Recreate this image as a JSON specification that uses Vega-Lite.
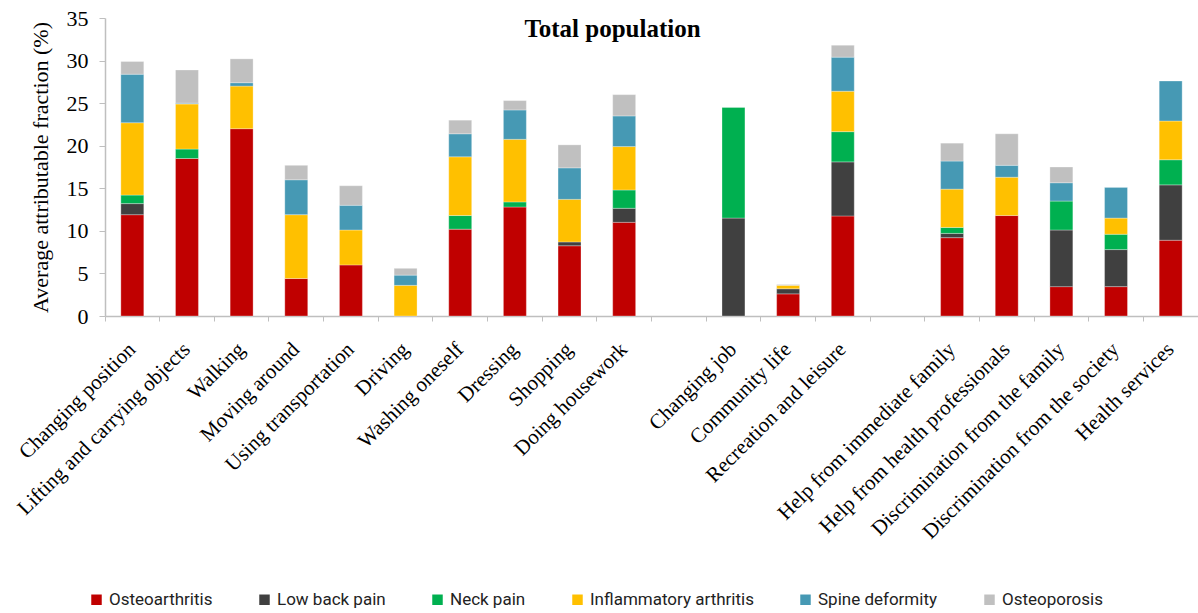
{
  "$schema": "https://vega.github.io/schema/vega-lite/v6.json",
  "autosize": {"type": "none"},
  "width": 1093,
  "height": 298,
  "padding": {"left": 105, "top": 18, "right": 0, "bottom": 297},
  "background": "white",
  "title": {
    "text": "Total population",
    "font": "Liberation Serif",
    "fontSize": 25,
    "fontWeight": "bold",
    "color": "#000000",
    "anchor": "middle",
    "frame": "group",
    "dx": -39,
    "offset": -35
  },
  "data": {
    "values": [
      {"a": "Changing position", "d": "Osteoarthritis", "k": 1, "v": 11.9},
      {"a": "Changing position", "d": "Low back pain", "k": 2, "v": 1.3},
      {"a": "Changing position", "d": "Neck pain", "k": 3, "v": 1.0},
      {"a": "Changing position", "d": "Inflammatory arthritis", "k": 4, "v": 8.5},
      {"a": "Changing position", "d": "Spine deformity", "k": 5, "v": 5.7},
      {"a": "Changing position", "d": "Osteoporosis", "k": 6, "v": 1.5},
      {"a": "Lifting and carrying objects", "d": "Osteoarthritis", "k": 1, "v": 18.5},
      {"a": "Lifting and carrying objects", "d": "Neck pain", "k": 3, "v": 1.1},
      {"a": "Lifting and carrying objects", "d": "Inflammatory arthritis", "k": 4, "v": 5.3},
      {"a": "Lifting and carrying objects", "d": "Spine deformity", "k": 5, "v": 0.1},
      {"a": "Lifting and carrying objects", "d": "Osteoporosis", "k": 6, "v": 3.9},
      {"a": "Walking", "d": "Osteoarthritis", "k": 1, "v": 22.0},
      {"a": "Walking", "d": "Inflammatory arthritis", "k": 4, "v": 5.0},
      {"a": "Walking", "d": "Spine deformity", "k": 5, "v": 0.4},
      {"a": "Walking", "d": "Osteoporosis", "k": 6, "v": 2.8},
      {"a": "Moving around", "d": "Osteoarthritis", "k": 1, "v": 4.4},
      {"a": "Moving around", "d": "Inflammatory arthritis", "k": 4, "v": 7.5},
      {"a": "Moving around", "d": "Spine deformity", "k": 5, "v": 4.1},
      {"a": "Moving around", "d": "Osteoporosis", "k": 6, "v": 1.7},
      {"a": "Using transportation", "d": "Osteoarthritis", "k": 1, "v": 6.0},
      {"a": "Using transportation", "d": "Inflammatory arthritis", "k": 4, "v": 4.1},
      {"a": "Using transportation", "d": "Spine deformity", "k": 5, "v": 2.9},
      {"a": "Using transportation", "d": "Osteoporosis", "k": 6, "v": 2.3},
      {"a": "Driving", "d": "Inflammatory arthritis", "k": 4, "v": 3.6},
      {"a": "Driving", "d": "Spine deformity", "k": 5, "v": 1.2},
      {"a": "Driving", "d": "Osteoporosis", "k": 6, "v": 0.8},
      {"a": "Washing oneself", "d": "Osteoarthritis", "k": 1, "v": 10.2},
      {"a": "Washing oneself", "d": "Neck pain", "k": 3, "v": 1.6},
      {"a": "Washing oneself", "d": "Inflammatory arthritis", "k": 4, "v": 6.9},
      {"a": "Washing oneself", "d": "Spine deformity", "k": 5, "v": 2.7},
      {"a": "Washing oneself", "d": "Osteoporosis", "k": 6, "v": 1.6},
      {"a": "Dressing", "d": "Osteoarthritis", "k": 1, "v": 12.8},
      {"a": "Dressing", "d": "Neck pain", "k": 3, "v": 0.6},
      {"a": "Dressing", "d": "Inflammatory arthritis", "k": 4, "v": 7.35},
      {"a": "Dressing", "d": "Spine deformity", "k": 5, "v": 3.45},
      {"a": "Dressing", "d": "Osteoporosis", "k": 6, "v": 1.1},
      {"a": "Shopping", "d": "Osteoarthritis", "k": 1, "v": 8.25},
      {"a": "Shopping", "d": "Low back pain", "k": 2, "v": 0.45},
      {"a": "Shopping", "d": "Inflammatory arthritis", "k": 4, "v": 5.0},
      {"a": "Shopping", "d": "Spine deformity", "k": 5, "v": 3.7},
      {"a": "Shopping", "d": "Osteoporosis", "k": 6, "v": 2.7},
      {"a": "Doing housework", "d": "Osteoarthritis", "k": 1, "v": 11.0},
      {"a": "Doing housework", "d": "Low back pain", "k": 2, "v": 1.65},
      {"a": "Doing housework", "d": "Neck pain", "k": 3, "v": 2.15},
      {"a": "Doing housework", "d": "Inflammatory arthritis", "k": 4, "v": 5.1},
      {"a": "Doing housework", "d": "Spine deformity", "k": 5, "v": 3.6},
      {"a": "Doing housework", "d": "Osteoporosis", "k": 6, "v": 2.5},
      {"a": "Changing job", "d": "Low back pain", "k": 2, "v": 11.5},
      {"a": "Changing job", "d": "Neck pain", "k": 3, "v": 13.0},
      {"a": "Community life", "d": "Osteoarthritis", "k": 1, "v": 2.6},
      {"a": "Community life", "d": "Low back pain", "k": 2, "v": 0.6},
      {"a": "Community life", "d": "Inflammatory arthritis", "k": 4, "v": 0.4},
      {"a": "Community life", "d": "Osteoporosis", "k": 6, "v": 0.1},
      {"a": "Recreation and leisure", "d": "Osteoarthritis", "k": 1, "v": 11.75},
      {"a": "Recreation and leisure", "d": "Low back pain", "k": 2, "v": 6.35},
      {"a": "Recreation and leisure", "d": "Neck pain", "k": 3, "v": 3.55},
      {"a": "Recreation and leisure", "d": "Inflammatory arthritis", "k": 4, "v": 4.75},
      {"a": "Recreation and leisure", "d": "Spine deformity", "k": 5, "v": 4.0},
      {"a": "Recreation and leisure", "d": "Osteoporosis", "k": 6, "v": 1.4},
      {"a": "Help from immediate family", "d": "Osteoarthritis", "k": 1, "v": 9.2},
      {"a": "Help from immediate family", "d": "Low back pain", "k": 2, "v": 0.5},
      {"a": "Help from immediate family", "d": "Neck pain", "k": 3, "v": 0.7},
      {"a": "Help from immediate family", "d": "Inflammatory arthritis", "k": 4, "v": 4.5},
      {"a": "Help from immediate family", "d": "Spine deformity", "k": 5, "v": 3.3},
      {"a": "Help from immediate family", "d": "Osteoporosis", "k": 6, "v": 2.1},
      {"a": "Help from health professionals", "d": "Osteoarthritis", "k": 1, "v": 11.8},
      {"a": "Help from health professionals", "d": "Inflammatory arthritis", "k": 4, "v": 4.5},
      {"a": "Help from health professionals", "d": "Spine deformity", "k": 5, "v": 1.4},
      {"a": "Help from health professionals", "d": "Osteoporosis", "k": 6, "v": 3.7},
      {"a": "Discrimination from the family", "d": "Osteoarthritis", "k": 1, "v": 3.45},
      {"a": "Discrimination from the family", "d": "Low back pain", "k": 2, "v": 6.65},
      {"a": "Discrimination from the family", "d": "Neck pain", "k": 3, "v": 3.4},
      {"a": "Discrimination from the family", "d": "Spine deformity", "k": 5, "v": 2.15},
      {"a": "Discrimination from the family", "d": "Osteoporosis", "k": 6, "v": 1.85},
      {"a": "Discrimination from the society", "d": "Osteoarthritis", "k": 1, "v": 3.45},
      {"a": "Discrimination from the society", "d": "Low back pain", "k": 2, "v": 4.35},
      {"a": "Discrimination from the society", "d": "Neck pain", "k": 3, "v": 1.8},
      {"a": "Discrimination from the society", "d": "Inflammatory arthritis", "k": 4, "v": 1.9},
      {"a": "Discrimination from the society", "d": "Spine deformity", "k": 5, "v": 3.6},
      {"a": "Health services", "d": "Osteoarthritis", "k": 1, "v": 8.9},
      {"a": "Health services", "d": "Low back pain", "k": 2, "v": 6.5},
      {"a": "Health services", "d": "Neck pain", "k": 3, "v": 2.95},
      {"a": "Health services", "d": "Inflammatory arthritis", "k": 4, "v": 4.55},
      {"a": "Health services", "d": "Spine deformity", "k": 5, "v": 4.7}
    ]
  },
  "mark": {"type": "bar", "width": {"band": 0.42}, "stroke": "white", "strokeWidth": 0.5, "strokeOpacity": 0.6},
  "encoding": {
    "x": {
      "field": "a",
      "type": "nominal",
      "scale": {
        "domain": ["Changing position", "Lifting and carrying objects", "Walking", "Moving around", "Using transportation", "Driving", "Washing oneself", "Dressing", "Shopping", "Doing housework", "gap1", "Changing job", "Community life", "Recreation and leisure", "gap2", "Help from immediate family", "Help from health professionals", "Discrimination from the family", "Discrimination from the society", "Health services"],
        "paddingInner": 0,
        "paddingOuter": 0
      },
      "axis": {
        "title": null,
        "labelExpr": "indexof(datum.value, 'gap') == 0 ? '' : datum.value",
        "labelAngle": -45,
        "labelAlign": "right",
        "labelBaseline": "middle",
        "labelPadding": 25,
        "labelFont": "Liberation Serif",
        "labelFontSize": 21,
        "labelColor": "#000000",
        "labelLimit": 0,
        "bandPosition": 0,
        "domainColor": "#bfbfbf",
        "domainWidth": 1.5,
        "tickColor": "#bfbfbf",
        "tickSize": 5,
        "labelOverlap": false,
        "labelBound": false
      }
    },
    "y": {
      "field": "v",
      "type": "quantitative",
      "stack": "zero",
      "scale": {"domain": [0, 35], "nice": false},
      "axis": {
        "title": "Average attributable fraction (%)",
        "titleFont": "Liberation Serif",
        "titleFontSize": 22,
        "titleFontWeight": "normal",
        "titleColor": "#000000",
        "titlePadding": 14,
        "values": [0, 5, 10, 15, 20, 25, 30, 35],
        "grid": false,
        "labelFont": "Liberation Serif",
        "labelFontSize": 22,
        "labelColor": "#000000",
        "labelPadding": 11,
        "domainColor": "#bfbfbf",
        "domainWidth": 1.5,
        "tickColor": "#bfbfbf",
        "tickSize": 6
      }
    },
    "color": {
      "field": "d",
      "type": "nominal",
      "scale": {
        "domain": ["Osteoarthritis", "Low back pain", "Neck pain", "Inflammatory arthritis", "Spine deformity", "Osteoporosis"],
        "range": ["#C00000", "#404040", "#00B050", "#FFC000", "#4699B4", "#C0C0C0"]
      },
      "legend": {
        "title": null,
        "orient": "none",
        "legendX": -17,
        "legendY": 573,
        "direction": "horizontal",
        "columns": 6,
        "symbolType": "square",
        "symbolSize": 110,
        "symbolStrokeWidth": 0,
        "labelFont": "Roboto",
        "labelFontSize": 17,
        "labelColor": "#222222",
        "labelOffset": 4,
        "labelLimit": 0,
        "columnPadding": 43
      }
    },
    "order": {"field": "k", "type": "quantitative", "sort": "ascending"}
  },
  "config": {"view": {"stroke": null}}
}
